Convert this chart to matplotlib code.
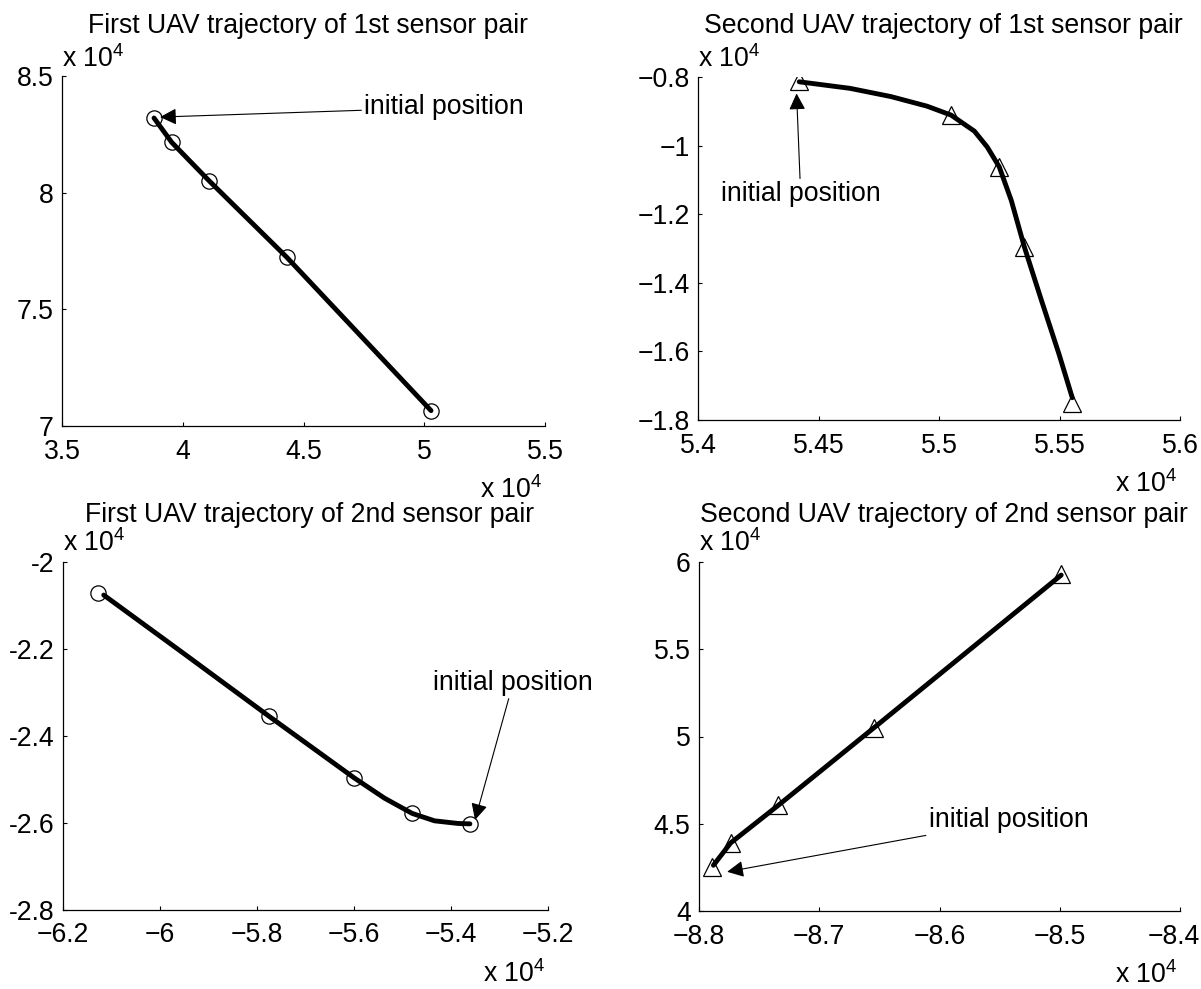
import matplotlib
matplotlib.use("Agg")
import matplotlib.pyplot as plt
from matplotlib.transforms import ScaledTranslation

plt.rcParams['font.family'] = ['Liberation Sans', 'DejaVu Sans']
plt.rcParams['mathtext.fontset'] = 'custom'
plt.rcParams['mathtext.rm'] = 'Liberation Sans'
plt.rcParams['mathtext.it'] = 'Liberation Sans:italic'

FS = 19.2
W, H = 1201, 989

# ---------------- data (all coordinates in units of 10^4) ----------------
titles = ["First UAV trajectory of 1st sensor pair",
          "Second UAV trajectory of 1st sensor pair",
          "First UAV trajectory of 2nd sensor pair",
          "Second UAV trajectory of 2nd sensor pair"]

# panel 1 : first UAV, 1st pair (circles)
p1_line_x = [3.881, 3.954, 4.109, 4.430, 5.028]
p1_line_y = [8.320, 8.216, 8.051, 7.724, 7.066]
p1_mark_x = [3.881, 3.954, 4.109, 4.430, 5.028]
p1_mark_y = [8.320, 8.216, 8.051, 7.724, 7.066]
p1_xticks = [3.5, 4, 4.5, 5, 5.5]
p1_xlabels = ["3.5", "4", "4.5", "5", "5.5"]
p1_yticks = [7, 7.5, 8, 8.5]
p1_ylabels = ["7", "7.5", "8", "8.5"]
p1_text = (5.082, 8.365)
p1_tip = (3.906, 8.324)

# panel 2 : second UAV, 1st pair (triangles)
p2_line_x = [5.442, 5.463, 5.480, 5.495, 5.505, 5.5147, 5.520, 5.525, 5.530, 5.5354, 5.5425, 5.5498, 5.5553]
p2_line_y = [-0.814, -0.833, -0.857, -0.885, -0.911, -0.958, -1.004, -1.062, -1.160, -1.295, -1.451, -1.608, -1.735]
p2_mark_x = [5.442, 5.505, 5.525, 5.5354, 5.5553]
p2_mark_y = [-0.812, -0.911, -1.062, -1.295, -1.750]
p2_xticks = [5.4, 5.45, 5.5, 5.55, 5.6]
p2_xlabels = ["5.4", "5.45", "5.5", "5.55", "5.6"]
p2_yticks = [-1.8, -1.6, -1.4, -1.2, -1.0, -0.8]
p2_ylabels = ["\u22121.8", "\u22121.6", "\u22121.4", "\u22121.2", "\u22121", "\u22120.8"]
p2_text = (5.4426, -1.142)
p2_tip = (5.4409, -0.848)

# panel 3 : first UAV, 2nd pair (circles)
p3_line_x = [-6.116, -5.949, -5.776, -5.600, -5.537, -5.480, -5.434, -5.386, -5.361]
p3_line_y = [-2.076, -2.212, -2.354, -2.496, -2.543, -2.578, -2.595, -2.601, -2.602]
p3_mark_x = [-6.128, -5.776, -5.600, -5.480, -5.361]
p3_mark_y = [-2.071, -2.354, -2.496, -2.576, -2.602]
p3_xticks = [-6.2, -6.0, -5.8, -5.6, -5.4, -5.2]
p3_xlabels = ["\u22126.2", "\u22126", "\u22125.8", "\u22125.6", "\u22125.4", "\u22125.2"]
p3_yticks = [-2.8, -2.6, -2.4, -2.2, -2.0]
p3_ylabels = ["-2.8", "-2.6", "-2.4", "-2.2", "-2"]
p3_text = (-5.272, -2.278)
p3_tip = (-5.3505, -2.593)

# panel 4 : second UAV, 2nd pair (triangles)
p4_line_x = [-8.788, -8.7737, -8.734, -8.6545, -8.4988]
p4_line_y = [4.262, 4.390, 4.606, 5.050, 5.925]
p4_mark_x = [-8.789, -8.7737, -8.734, -8.6545, -8.4988]
p4_mark_y = [4.250, 4.390, 4.606, 5.050, 5.933]
p4_xticks = [-8.8, -8.7, -8.6, -8.5, -8.4]
p4_xlabels = ["\u22128.8", "\u22128.7", "\u22128.6", "\u22128.5", "\u22128.4"]
p4_yticks = [4, 4.5, 5, 5.5, 6]
p4_ylabels = ["4", "4.5", "5", "5.5", "6"]
p4_text = (-8.5426, 4.520)
p4_tip = (-8.7766, 4.2246)

annot_text = "initial position"
exp_label = r"x 10$^{4}$"

# ---------------- layout (pixel boxes: left, right, top, bottom) ----------------
boxes = [(62, 545, 76, 426), (698, 1180, 77, 420),
         (63, 548, 562, 910), (699, 1180, 562, 911)]
title_base = [33, 33, 522, 522]
exp_base = [67, 67, 551, 551]

panels = [
    (p1_line_x, p1_line_y, p1_mark_x, p1_mark_y, 'o', p1_xticks, p1_xlabels, p1_yticks, p1_ylabels, p1_text, p1_tip),
    (p2_line_x, p2_line_y, p2_mark_x, p2_mark_y, '^', p2_xticks, p2_xlabels, p2_yticks, p2_ylabels, p2_text, p2_tip),
    (p3_line_x, p3_line_y, p3_mark_x, p3_mark_y, 'o', p3_xticks, p3_xlabels, p3_yticks, p3_ylabels, p3_text, p3_tip),
    (p4_line_x, p4_line_y, p4_mark_x, p4_mark_y, '^', p4_xticks, p4_xlabels, p4_yticks, p4_ylabels, p4_text, p4_tip),
]

fig = plt.figure(figsize=(W / 100, H / 100), dpi=100)

for i, (box, pan) in enumerate(zip(boxes, panels)):
    l, r, t, b = box
    lx, ly, mx, my, mk, xt, xl, yt, yl, tpos, tip = pan
    ax = fig.add_axes([l / W, 1 - b / H, (r - l) / W, (b - t) / H])
    hp = b - t
    ax.plot(lx, ly, '-', color='k', lw=3.5, solid_capstyle='round', zorder=3)
    ms = 11 if mk == 'o' else 13
    ax.plot(mx, my, linestyle='none', marker=mk, ms=ms, mfc='none', mec='k', mew=0.9, zorder=4)
    ax.set_xlim(xt[0], xt[-1])
    ax.set_ylim(yt[0], yt[-1])
    ax.set_xticks(xt)
    ax.set_xticklabels(xl)
    ax.set_yticks(yt)
    ax.set_yticklabels(yl)
    for s in ['top', 'right']:
        ax.spines[s].set_visible(False)
    for s in ['left', 'bottom']:
        ax.spines[s].set_linewidth(0.9)
        ax.spines[s].set_color('k')
    ax.tick_params(axis='both', direction='in', length=3, width=0.8, labelsize=FS, colors='k')
    ax.tick_params(axis='x', pad=9)
    ax.tick_params(axis='y', pad=6)
    if i == 3:
        lab = ax.get_xticklabels()[-1]
        lab.set_transform(lab.get_transform() + ScaledTranslation(-6 / 100, 0, fig.dpi_scale_trans))
    # title
    ax.text(0.5 + 4 / (r - l), (b - title_base[i]) / hp, titles[i],
            transform=ax.transAxes, ha='center', va='baseline', fontsize=FS)
    # exponent labels
    ax.text(0.0, (b - exp_base[i]) / hp, exp_label, transform=ax.transAxes,
            ha='left', va='baseline', fontsize=FS)
    ax.text(1.0 - 3 / (r - l), -72 / hp, exp_label, transform=ax.transAxes,
            ha='right', va='baseline', fontsize=FS)
    # annotation
    ax.annotate(annot_text, xy=tip, xytext=tpos, ha='center', va='center', fontsize=FS,
                arrowprops=dict(arrowstyle='-|>,head_length=0.5,head_width=0.25',
                                mutation_scale=20, lw=0.8, color='k', shrinkA=0, shrinkB=0),
                zorder=5)

fig.savefig("out.png", dpi=100)
